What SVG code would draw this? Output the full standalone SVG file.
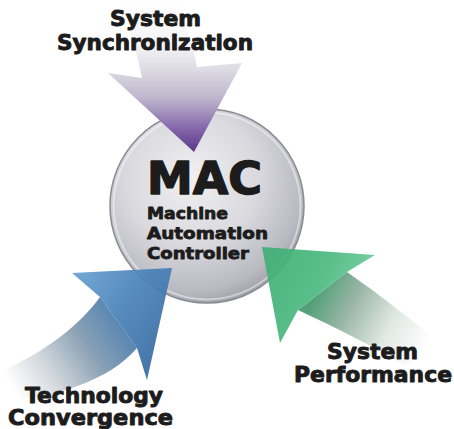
<svg xmlns="http://www.w3.org/2000/svg" width="454" height="429" viewBox="0 0 454 429">
<defs>
<style>
.t{font-family:"DejaVu Sans","Liberation Sans",sans-serif;font-weight:bold;fill:#1c1c1c;stroke:#1c1c1c;stroke-linejoin:round}
.lab{font-size:21px;text-anchor:middle;stroke-width:0.9px}
.sub{font-size:16px;stroke-width:0.8px}
.big{font-size:44px;stroke-width:1.5px}
</style>
<radialGradient id="gBall" cx="0.42" cy="0.36" r="0.68">
<stop offset="0" stop-color="#f1f1f3"/>
<stop offset="0.5" stop-color="#d9d9de"/>
<stop offset="0.85" stop-color="#b9b9c1"/>
<stop offset="1" stop-color="#9a9aa4"/>
</radialGradient>
<linearGradient id="gPurple" gradientUnits="userSpaceOnUse" x1="0" y1="0" x2="0" y2="152">
<stop offset="0" stop-color="#ffffff"/>
<stop offset="0.3" stop-color="#f4f4f6"/>
<stop offset="0.45" stop-color="#dedce4"/>
<stop offset="0.65" stop-color="#bdb4cc"/>
<stop offset="0.85" stop-color="#8265a9"/>
<stop offset="1" stop-color="#5a3987"/>
</linearGradient>
<linearGradient id="gBlueHead" gradientUnits="userSpaceOnUse" x1="72" y1="273" x2="165" y2="340">
<stop offset="0" stop-color="#6ba2d1"/>
<stop offset="0.5" stop-color="#4b84bb"/>
<stop offset="1" stop-color="#3a6ea4"/>
</linearGradient>
<linearGradient id="gBlueShaft" gradientUnits="userSpaceOnUse" x1="125" y1="320" x2="15" y2="392">
<stop offset="0" stop-color="#5283b1"/>
<stop offset="0.35" stop-color="#8aa1b5"/>
<stop offset="0.7" stop-color="#d3d8dd"/>
<stop offset="1" stop-color="#ffffff"/>
</linearGradient>
<linearGradient id="gGreenHead" gradientUnits="userSpaceOnUse" x1="262" y1="250" x2="375" y2="300">
<stop offset="0" stop-color="#3fae74"/>
<stop offset="0.55" stop-color="#4dba82"/>
<stop offset="1" stop-color="#7bd2a4"/>
</linearGradient>
<linearGradient id="gGreenShaft" gradientUnits="userSpaceOnUse" x1="318" y1="292" x2="425" y2="350">
<stop offset="0" stop-color="#54a07a"/>
<stop offset="0.3" stop-color="#9bb7a7"/>
<stop offset="0.65" stop-color="#e0e8e3"/>
<stop offset="1" stop-color="#ffffff"/>
</linearGradient>
</defs>
<rect width="454" height="429" fill="#ffffff"/>

<g id="mac">
<circle cx="207" cy="206" r="97" fill="url(#gBall)" stroke="#8a8a94" stroke-width="1.5"/>
<circle cx="207" cy="206" r="93.5" fill="none" stroke="#ffffff" stroke-opacity="0.45" stroke-width="2"/>
</g>

<g id="connectors">
<g id="arrow-sync">
<path d="M120,0 L177,0 C186,25 194,48 197,67 L242,63 L194,152 L108,73 L142,78 C137,52 129,25 120,0 Z" fill="url(#gPurple)"/>
</g>
<g id="arrow-tech">
<path d="M100,297 C80,325 45,352 0,372 L0,402 C55,398 110,380 137,348 Z" fill="url(#gBlueShaft)"/>
<path d="M172,268 L147,380 L137,348 L100,297 L72,273 Z" fill="url(#gBlueHead)" fill-opacity="0.93"/>
</g>
<g id="arrow-perf">
<path d="M347,272 C380,295 410,318 442,346 L405,366 C372,345 332,326 298,310 Z" fill="url(#gGreenShaft)"/>
<path d="M262,247 L375,255 L347,272 L298,310 L280,343 Z" fill="url(#gGreenHead)" fill-opacity="0.93"/>
</g>
</g>

<g id="mac-text">
<text class="t big" x="147" y="193.5" textLength="115" lengthAdjust="spacingAndGlyphs">MAC</text>
<text class="t sub" x="147" y="219" textLength="81" lengthAdjust="spacingAndGlyphs">Machine</text>
<text class="t sub" x="147" y="239" textLength="121" lengthAdjust="spacingAndGlyphs">Automation</text>
<text class="t sub" x="147" y="259" textLength="102" lengthAdjust="spacingAndGlyphs">Controller</text>
</g>

<g id="label-sync">
<text class="t lab" x="155.5" y="26" textLength="91" lengthAdjust="spacingAndGlyphs">System</text>
<text class="t lab" x="155" y="50" textLength="196" lengthAdjust="spacingAndGlyphs">Synchronization</text>
</g>
<g id="label-tech">
<text class="t lab" x="94" y="403" textLength="138" lengthAdjust="spacingAndGlyphs">Technology</text>
<text class="t lab" x="90.5" y="425" textLength="165" lengthAdjust="spacingAndGlyphs">Convergence</text>
</g>
<g id="label-perf">
<text class="t lab" x="372.5" y="359" textLength="91" lengthAdjust="spacingAndGlyphs">System</text>
<text class="t lab" x="373" y="382" textLength="158" lengthAdjust="spacingAndGlyphs">Performance</text>
</g>
</svg>
